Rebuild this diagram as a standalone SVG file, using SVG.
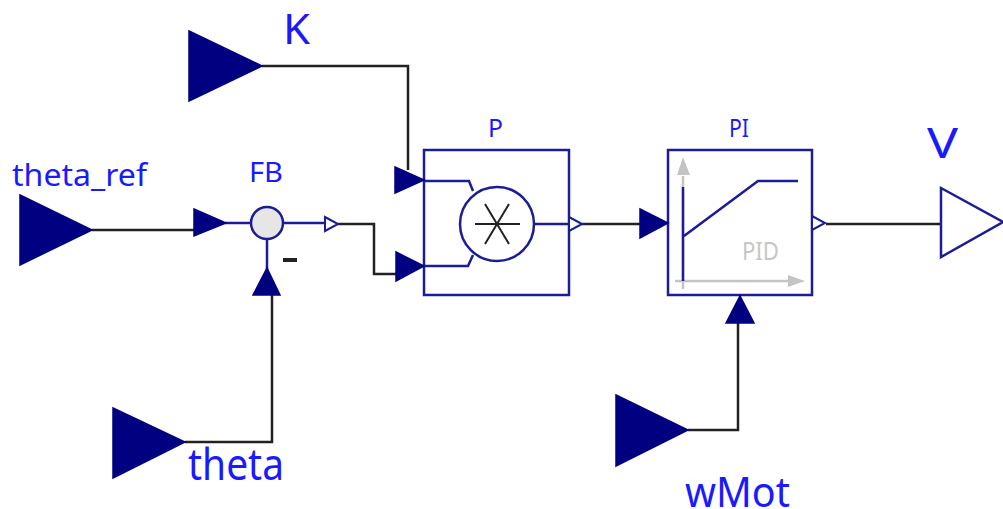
<svg xmlns="http://www.w3.org/2000/svg" width="1003" height="509" viewBox="0 0 1003 509">
<style>
.w{fill:none;stroke:#222;stroke-width:2.500}
.b{fill:none;stroke:#1c1c96;stroke-width:2.500}
.t{fill:#000080;stroke:#000080;stroke-width:1.500;stroke-linejoin:miter}
.o{fill:#fff;stroke:#1c1c96;stroke-width:2.500}
.s{stroke-width:2}
.g{fill:none;stroke:#c4c4c4;stroke-width:2.500}
.gf{fill:#c4c4c4}
text{font-family:"Noto Sans","Open Sans",sans-serif;fill:#1a1aff}
</style>
<rect width="1003" height="509" fill="#fff"/>
<g id="connectors">
<path class="w" d="M92 230H194"/>
<path class="w" d="M262 66H408V170"/>
<path class="w" d="M338 224H374V274H396"/>
<path class="w" d="M185 442H272V294"/>
<path class="w" d="M582 224H640"/>
<path class="w" d="M688 430H738V322"/>
<path class="w" d="M826 224H941"/>
</g>
<g id="K"><polygon class="t" points="189,31 262,66 189,101"/><text x="283" y="44" font-size="42" textLength="27" lengthAdjust="spacingAndGlyphs">K</text></g>
<g id="theta_ref"><polygon class="t" points="20,195 92,230 20,265"/><text x="12" y="186" font-size="30" textLength="135" lengthAdjust="spacingAndGlyphs">theta_ref</text></g>
<g id="theta"><polygon class="t" points="113,408 185,442 113,478"/><text x="188" y="480" font-size="43" textLength="96" lengthAdjust="spacingAndGlyphs">theta</text></g>
<g id="wMot"><polygon class="t" points="616,395 688,430 616,466"/><text x="685" y="507" font-size="42" textLength="105" lengthAdjust="spacingAndGlyphs">wMot</text></g>
<g id="V"><polygon class="o" points="941,188 1003,222 941,257"/><text x="927" y="158" font-size="42" textLength="31" lengthAdjust="spacingAndGlyphs">V</text></g>
<g id="FB">
<path class="b" d="M225 223H251M283 223H325M267 239V270"/>
<polygon class="t" points="194,209 226,223 194,236"/>
<circle cx="267" cy="223" r="16" fill="#e6e6e6" stroke="#1c1c96" stroke-width="2.500"/>
<polygon class="t" points="253,295 267,268 280,295"/>
<polygon class="o s" points="325,217 338,224 325,231"/>
<rect x="283" y="258" width="14" height="4" fill="#222"/>
<text x="249" y="182" font-size="28" textLength="34" lengthAdjust="spacingAndGlyphs">FB</text>
</g>
<g id="P">
<rect class="o" x="424" y="150" width="145" height="145"/>
<path class="b" d="M424 181H469L473 191M424 266H468L473 255M534 224H569"/>
<polygon class="t" points="395,167 424,180 395,193"/>
<polygon class="t" points="396,252 424,266 396,281"/>
<circle cx="497" cy="224" r="37" class="o"/>
<path d="M475 224H520M485 204L509 244M509 204L485 244" fill="none" stroke="#222" stroke-width="2"/>
<polygon class="o s" points="569,217 582,224 569,231"/>
<text x="488" y="137" font-size="25" textLength="15" lengthAdjust="spacingAndGlyphs">P</text>
</g>
<g id="PI">
<rect class="o" x="668" y="150" width="144" height="145"/>
<path class="g" d="M683 176V289M675 281H790"/>
<polygon class="gf" points="683,157 690,175 677,175"/>
<polygon class="gf" points="805,281 788,275 788,287"/>
<path class="b" d="M683 187V281M684 236L758 181H798"/>
<text x="742" y="260" font-size="25" textLength="37" lengthAdjust="spacingAndGlyphs" style="fill:#c6c6c6">PID</text>
<polygon class="t" points="640,209 668,223 640,238"/>
<polygon class="t" points="726,323 740,296 754,323"/>
<polygon class="o s" points="812,216 825,223 812,230"/>
<text x="729" y="137" font-size="25" textLength="20" lengthAdjust="spacingAndGlyphs">PI</text>
</g>
</svg>
